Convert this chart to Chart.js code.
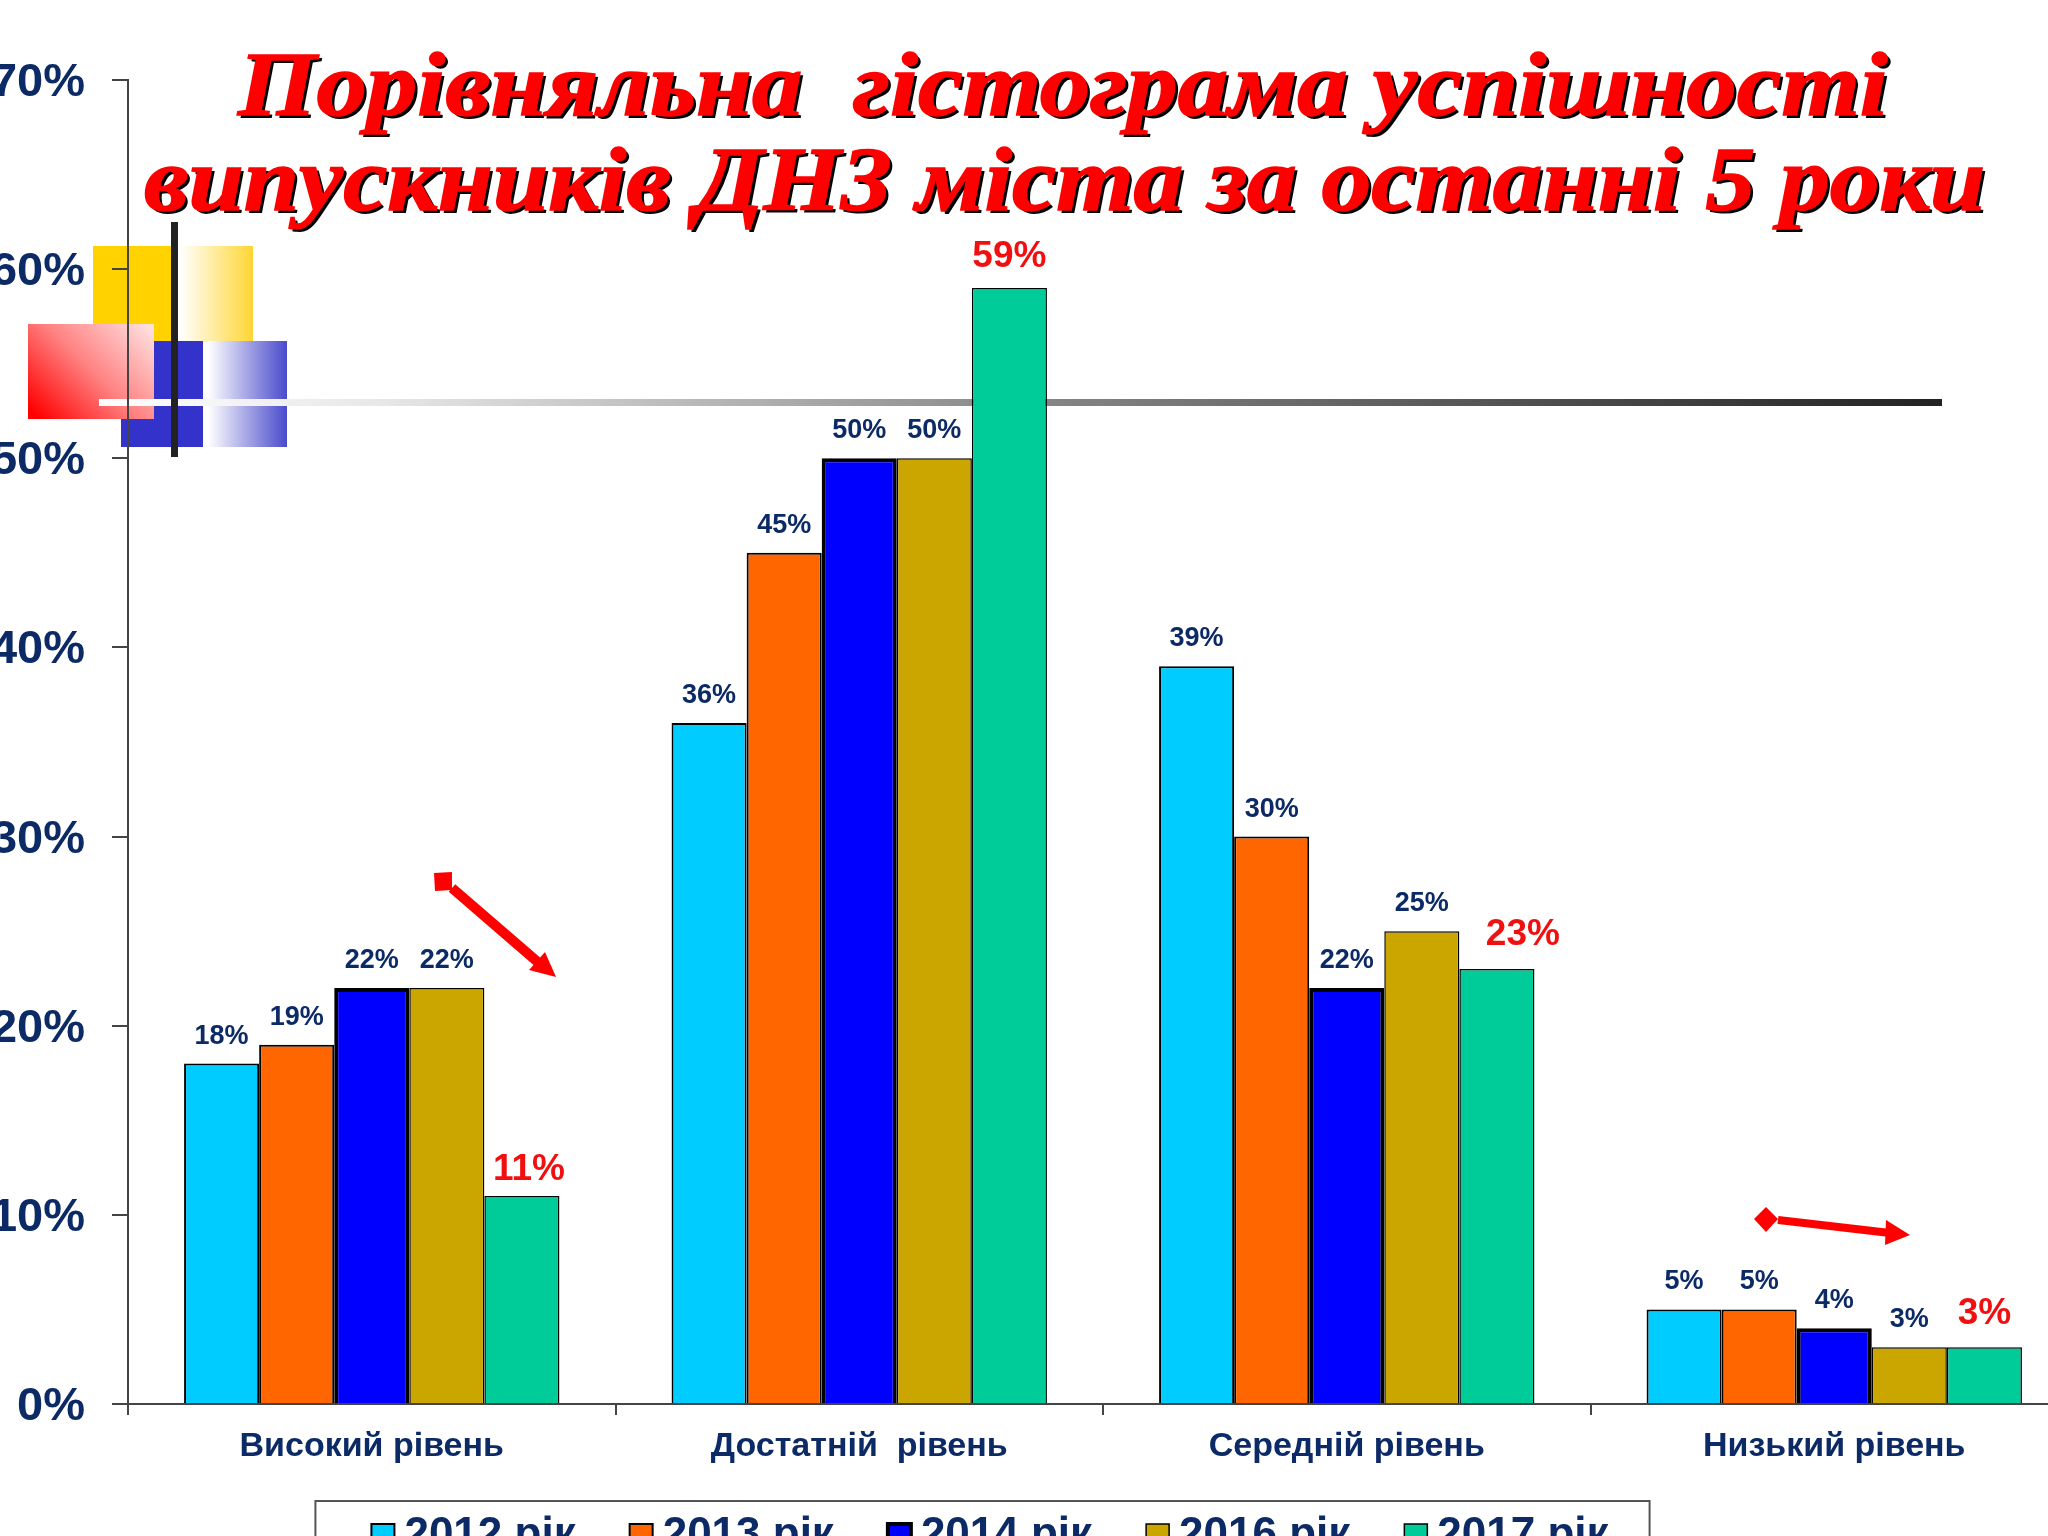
<!DOCTYPE html>
<html lang="uk">
<head>
<meta charset="utf-8">
<title>Порівняльна гістограма успішності</title>
<script src="https://cdn.jsdelivr.net/npm/chart.js@4"></script>
<style>
  html, body { margin: 0; width: 2048px; height: 1536px; overflow: hidden; background: #fff; }
  #stage { position: absolute; left: 0; top: 0; width: 2048px; height: 1536px; overflow: hidden; }
  #stage > * { position: absolute; }
  #chart { left: -109px; top: 0; }

  /* slide decoration behind the chart */
  .yellowSolid { left: 93px; top: 246px; width: 81px; height: 96px; background: #ffd200; }
  .yellowFade { left: 174px; top: 246px; width: 79px; height: 96px; background: linear-gradient(90deg, #fff 8%, #ffd633); }
  .blueSolid { left: 121px; top: 341px; width: 82px; height: 106px; background: #3333cc; }
  .blueFade { left: 208px; top: 341px; width: 79px; height: 106px; background: linear-gradient(90deg, #fff, #4a4acc); }
  .redBox { left: 28px; top: 324px; width: 126px; height: 95px; background: linear-gradient(45deg, #ff0000 5%, #ff8080 50%, #ffe6e6 100%); }
  .grayLine { left: 99px; top: 399px; width: 1843px; height: 7px; background: linear-gradient(90deg, #fff 0%, #e8e8e8 15%, #888 50%, #222 100%); }
  .blackBar { left: 171px; top: 222px; width: 7px; height: 235px; background: #222; }

  .heading {
    margin: 0; font: italic bold 90px "Liberation Serif", serif; color: #f00;
    -webkit-text-stroke: 1.5px #f00; text-shadow: 3px 3px 0 #000; white-space: pre;
    transform-origin: 0 0; line-height: 1; z-index: 3;
  }
  #line1 { left: 238px; top: 40px; transform: scaleX(1.12); }
  #line2 { left: 144px; top: 135px; transform: scaleX(1.105); }
  #arrows { left: 0; top: 0; z-index: 2; }
</style>
</head>
<body>
<div id="stage">
  <div class="yellowSolid"></div>
  <div class="yellowFade"></div>
  <div class="blueSolid"></div>
  <div class="blueFade"></div>
  <div class="redBox"></div>
  <div class="grayLine"></div>
  <div class="blackBar"></div>
  <canvas id="chart" width="2187" height="1568"></canvas>
  <svg id="arrows" width="2048" height="1536" viewBox="0 0 2048 1536">
    <g fill="#f00" stroke="none">
      <polygon points="434,873 452,872 452,890 435,891"/>
      <line x1="452" y1="888" x2="540" y2="964" stroke="#f00" stroke-width="10"/>
      <polygon points="556,977 529,970 545,952"/>
      <polygon points="1754,1219 1766,1207 1778,1219 1766,1232"/>
      <line x1="1778" y1="1220" x2="1890" y2="1233" stroke="#f00" stroke-width="8"/>
      <polygon points="1910,1235 1886,1220 1885,1245"/>
    </g>
  </svg>
  <div class="heading" id="line1">Порівняльна  гістограма успішності</div>
  <div class="heading" id="line2">випускників ДНЗ міста за останні 5 роки</div>
</div>

<script>
const categories = ["Високий рівень", "Достатній  рівень", "Середній рівень", "Низький рівень"];
const seriesNames = ["2012 рік", "2013 рік", "2014 рік", "2016 рік", "2017 рік"];
const values2012 = [18, 36, 39, 5];
const values2013 = [19, 45, 30, 5];
const values2014 = [22, 50, 22, 4];
const values2016 = [22, 50, 25, 3];
const values2017 = [11, 59, 23, 3];
const yTicks = [0, 10, 20, 30, 40, 50, 60, 70];

const NAVY = "#0b2a66";
const FONT = '"Liberation Sans", Arial, sans-serif';

function makeSet(label, data, color, borderWidth) {
  return { label, data, backgroundColor: color, borderColor: "#000", borderWidth };
}

// value labels above the bars, last series is the big red one
const barLabels = {
  id: "barLabels",
  afterDatasetsDraw(chart) {
    const ctx = chart.ctx;
    const last = chart.data.datasets.length - 1;
    const redShift = [7, 0, 26, 0];
    const redLift = [16, 21, 24, 23];
    ctx.save();
    ctx.textAlign = "center";
    ctx.textBaseline = "alphabetic";
    chart.data.datasets.forEach((ds, d) => {
      chart.getDatasetMeta(d).data.forEach((bar, i) => {
        const big = d === last;
        ctx.font = `bold ${big ? 37 : 27}px ${FONT}`;
        ctx.fillStyle = big ? "#f01010" : NAVY;
        ctx.fillText(ds.data[i] + "%", bar.x + (big ? redShift[i] : 0), bar.y - (big ? redLift[i] : 20));
      });
    });
    ctx.restore();
  }
};

// the legend only places the text, swatches and frame are painted here
const legendFrame = {
  id: "legendFrame",
  afterDraw(chart) {
    const ctx = chart.ctx;
    const boxes = chart.legend.legendHitBoxes;
    const first = boxes[0];
    const end = boxes[boxes.length - 1];
    const frameLeft = first.left + 11 - 56;
    const frameRight = end.left + end.width + 41;
    ctx.save();
    ctx.strokeStyle = "#555";
    ctx.lineWidth = 2;
    ctx.strokeRect(frameLeft, first.top - 13, frameRight - frameLeft, 200);
    boxes.forEach((b, i) => {
      const ds = chart.data.datasets[i];
      ctx.fillStyle = ds.backgroundColor;
      ctx.fillRect(b.left + 11, b.top + 10, 23, 23);
      ctx.lineWidth = ds.borderWidth;
      ctx.strokeStyle = "#000";
      ctx.strokeRect(b.left + 11, b.top + 10, 23, 23);
    });
    ctx.restore();
  }
};

new Chart(document.getElementById("chart"), {
  type: "bar",
  data: {
    labels: categories,
    datasets: [
      makeSet(seriesNames[0], values2012, "#00ccff", 2),
      makeSet(seriesNames[1], values2013, "#ff6600", 2),
      makeSet(seriesNames[2], values2014, "#0000ff", 4),
      makeSet(seriesNames[3], values2016, "#cca600", 1.5),
      makeSet(seriesNames[4], values2017, "#00cc99", 1.5)
    ]
  },
  options: {
    responsive: false,
    devicePixelRatio: 1,
    animation: false,
    layout: { padding: { top: 80 } },
    datasets: { bar: { categoryPercentage: 0.77, barPercentage: 1 } },
    plugins: {
      title: { display: false },
      tooltip: { enabled: false },
      legend: {
        position: "bottom",
        labels: {
          boxWidth: 22,
          padding: 43,
          color: NAVY,
          font: { family: FONT, size: 44, weight: "bold" },
          generateLabels(chart) {
            return Chart.defaults.plugins.legend.labels.generateLabels(chart)
              .map((l) => ({ ...l, fillStyle: "transparent", strokeStyle: "transparent", lineWidth: 0 }));
          }
        }
      }
    },
    scales: {
      x: {
        afterFit(scale) { scale.height = 67; },
        border: { color: "#444", width: 2 },
        grid: { drawOnChartArea: false, tickLength: 11, color: "#444", lineWidth: 2 },
        ticks: {
          color: NAVY,
          padding: 11,
          maxRotation: 0,
          font: { family: FONT, size: 34, weight: "bold" }
        }
      },
      y: {
        min: 0,
        max: 70,
        afterFit(scale) { scale.width = 237; },
        afterBuildTicks(scale) { scale.ticks = yTicks.map((value) => ({ value })); },
        border: { color: "#444", width: 2 },
        grid: { drawOnChartArea: false, tickLength: 16, color: "#444", lineWidth: 2 },
        ticks: {
          color: NAVY,
          padding: 27,
          labelOffset: 3,
          font: { family: FONT, size: 47, weight: "bold" },
          callback: (v) => v + "%"
        }
      }
    }
  },
  plugins: [barLabels, legendFrame]
});
</script>
</body>
</html>
